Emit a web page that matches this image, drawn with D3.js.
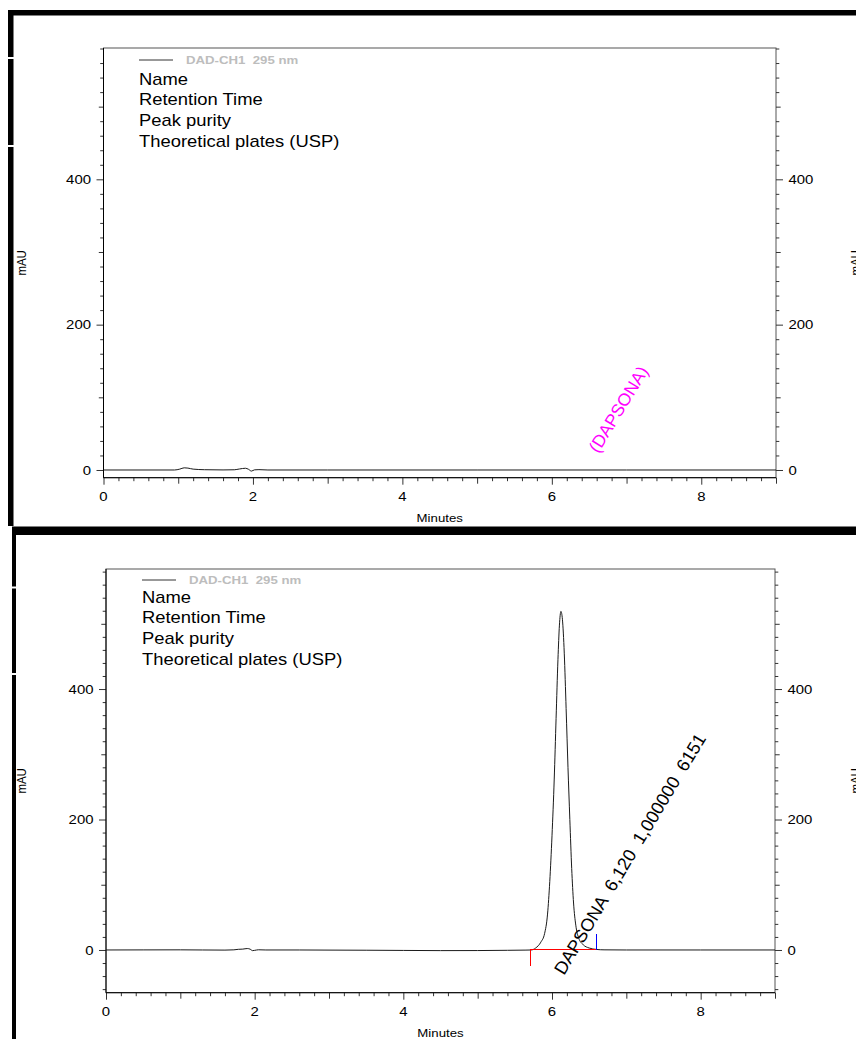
<!DOCTYPE html>
<html>
<head>
<meta charset="utf-8">
<script src="https://cdn.jsdelivr.net/npm/d3@7"></script>
<style>
  html, body { margin: 0; padding: 0; background: #fff; }
  svg { display: block; font-family: "Liberation Sans", Arial, Helvetica, sans-serif; }
</style>
</head>
<body>
<svg id="chart" width="856" height="1039"></svg>
<script>
// ---- data: chromatogram traces as [minutes, mAU] ----
const blankTrace = [
  [0, 0], [0.95, 0], [1.02, 1.2], [1.08, 3.0], [1.13, 2.6], [1.2, 1.2], [1.35, 0.4],
  [1.6, 0.1], [1.75, 0.3], [1.82, 1.4], [1.9, 2.4], [1.94, 1.0], [1.98, -1.5],
  [2.02, 0.2], [2.08, 0.5], [2.2, 0], [3, 0], [5, 0], [7, 0], [9, 0]
];
const sampleTrace = [
  [0, 0], [0.5, 0.1], [1.0, 0.2], [1.3, 0], [1.6, -0.2], [1.72, 0.2], [1.78, 1.0],
  [1.84, 1.3], [1.9, 2.2], [1.94, 1.2], [1.97, -1.0], [2.0, -0.6], [2.05, 0.3],
  [2.15, 0], [2.6, 0], [3.0, -0.2], [3.5, -0.4], [4.0, -0.7], [4.5, -1.0], [5.0, -0.9],
  [5.4, -0.5], [5.65, -0.2], [5.72, 0], [5.78, 3], [5.85, 12], [5.9, 25], [5.94, 55],
  [5.97, 105], [6.0, 175], [6.03, 262], [6.055, 355], [6.08, 445], [6.1, 498],
  [6.12, 519], [6.14, 507], [6.165, 455], [6.19, 370], [6.215, 280], [6.24, 200],
  [6.265, 125], [6.29, 72], [6.32, 38], [6.36, 18], [6.42, 8], [6.5, 3], [6.6, 0.8],
  [6.7, 0.2], [7, 0], [8, 0], [9, 0]
];

// ---- labels and axis values ----
const legendRows = ["Name", "Retention Time", "Peak purity", "Theoretical plates (USP)"];
const channelLabel = "DAD-CH1  295 nm";
const xTickLabels = [0, 2, 4, 6, 8];
const yTickLabels = [0, 200, 400];
const xLabel = "Minutes";
const yLabel = "mAU";

// ---- peak results ----
const peakName = "DAPSONA";
const peakRT = 6.120;
const peakPurity = "1,000000";
const peakPlates = 6151;
const peakStart = 5.70;
const peakEnd = 6.59;
const expectedName = "(DAPSONA)";
const expectedRT = 6.62;

const fmtRT = v => d3.format(".3f")(v).replace(".", ",");

const svg = d3.select("#chart");
const SX = 1.15; // horizontal glyph stretch of the printed report

function stretchedText(g, x, y, str, opt = {}) {
  return g.append("text")
    .attr("transform", `translate(${x},${y}) scale(${opt.sx || SX},1)`)
    .attr("text-anchor", opt.anchor || "start")
    .attr("dy", opt.dy || 0)
    .attr("font-size", opt.size || 13)
    .attr("font-weight", opt.weight || "normal")
    .attr("fill", opt.fill || "#000")
    .text(str);
}

// ---- report frame borders ----
const borders = svg.append("g").attr("fill", "#000");
borders.append("rect").attr("x", 8).attr("y", 10).attr("width", 848).attr("height", 5.5);
[[10, 57], [59, 145], [147, 526]].forEach(([a, b]) =>
  borders.append("rect").attr("x", 8).attr("y", a).attr("width", 5.5).attr("height", b - a));
borders.append("rect").attr("x", 12).attr("y", 526.5).attr("width", 844).attr("height", 8.5);
[[535, 586.5], [588.5, 673], [675, 1039]].forEach(([a, b]) =>
  borders.append("rect").attr("x", 12).attr("y", a).attr("width", 4).attr("height", b - a));

// ---- one chromatogram panel ----
function drawPanel(p) {
  const g = svg.append("g");
  const x = d3.scaleLinear().domain([0, 9]).range([p.left, p.right]);
  const y = d3.scaleLinear().domain(p.yDomain).range([p.bottom, p.top]);
  const id = "clip" + p.key;

  g.append("clipPath").attr("id", id).append("rect")
    .attr("x", p.left).attr("y", p.top).attr("width", p.right - p.left).attr("height", p.bottom - p.top);

  // frame
  g.append("rect").attr("x", p.left).attr("y", p.top)
    .attr("width", p.right - p.left).attr("height", p.bottom - p.top)
    .attr("fill", "none").attr("stroke", "#555").attr("stroke-width", 1);

  // y ticks: every 20, longer at 100s, labelled at 200s
  const yAll = d3.range(-100, 601, 20).filter(v => v >= p.yDomain[0] && v <= p.yDomain[1]);
  const yMajor = yAll.filter(v => v % 200 === 0);
  const yMid = yAll.filter(v => v % 100 === 0 && v % 200 !== 0);
  const yMinor = yAll.filter(v => v % 100 !== 0);
  const tickStyle = s => s.call(a => a.select(".domain").remove())
    .call(a => a.selectAll("line").attr("stroke", "#333"));
  [[yMajor, 7], [yMid, 4.7], [yMinor, 3.3]].forEach(([vals, len]) => {
    g.append("g").attr("transform", `translate(${p.left},0)`)
      .call(d3.axisLeft(y).tickValues(vals).tickSize(len).tickFormat("")).call(tickStyle);
    g.append("g").attr("transform", `translate(${p.right},0)`)
      .call(d3.axisRight(y).tickValues(vals).tickSize(len).tickFormat("")).call(tickStyle);
  });
  yTickLabels.forEach(v => {
    stretchedText(g, p.left - 12.5, y(v), v, { anchor: "end", dy: "0.36em", size: 13 });
    stretchedText(g, p.right + 12.5, y(v), v, { anchor: "start", dy: "0.36em", size: 13 });
  });

  // x ticks: every 0.2 min, longer on whole minutes, labelled every 2
  const xAll = d3.range(0, 46).map(i => i / 5);
  const xMajor = xAll.filter(v => Math.abs(v % 2) < 1e-9);
  const xMid = xAll.filter(v => Math.abs(v - Math.round(v)) < 1e-9 && Math.round(v) % 2 === 1);
  const xMinor = xAll.filter(v => Math.abs(v - Math.round(v)) > 1e-9);
  [[xMajor, 7], [xMid, 6], [xMinor, 3.5]].forEach(([vals, len]) => {
    g.append("g").attr("transform", `translate(0,${p.bottom})`)
      .call(d3.axisBottom(x).tickValues(vals).tickSize(len).tickFormat("")).call(tickStyle);
  });
  xTickLabels.forEach(v =>
    stretchedText(g, x(v), p.bottom + 19, v, { anchor: "middle", dy: "0.36em", size: 13 }));

  // axis lines
  g.append("line").attr("x1", p.left).attr("x2", p.left).attr("y1", p.top).attr("y2", p.bottom)
    .attr("stroke", "#000");
  g.append("line").attr("x1", p.left).attr("x2", p.right).attr("y1", p.bottom).attr("y2", p.bottom)
    .attr("stroke", "#000");

  // axis titles (the right-hand one runs off the page edge)
  stretchedText(g, (p.left + p.right) / 2, p.bottom + 40, xLabel, { anchor: "middle", dy: "0.36em", size: 11.5 });
  const mid = (p.top + p.bottom) / 2;
  [p.yTitleL, p.yTitleR].forEach(tx => {
    g.append("text")
      .attr("transform", `translate(${tx},${mid}) rotate(-90) scale(1,${SX})`)
      .attr("text-anchor", "middle").attr("font-size", 11.5).text(yLabel);
  });

  // trace
  const line = d3.line().x(d => x(d[0])).y(d => y(d[1])).curve(d3.curveMonotoneX);
  g.append("path").datum(p.trace).attr("clip-path", `url(#${id})`)
    .attr("fill", "none").attr("stroke", "#1a1a1a").attr("stroke-width", 1).attr("d", line);

  // legend
  const lx = p.left + p.legendDx, ly = p.top + p.legendDy;
  g.append("line").attr("x1", lx).attr("x2", lx + 34).attr("y1", ly).attr("y2", ly)
    .attr("stroke", "#333").attr("stroke-width", 1);
  stretchedText(g, lx + 47, ly, channelLabel, { dy: "0.36em", size: 11.5, weight: "bold", fill: "#bdbdbd" })
    .style("white-space", "pre");
  legendRows.forEach((r, i) =>
    stretchedText(g, lx, ly + p.rowDy + i * 20.7, r, { dy: "0.36em", size: 16 }));

  return { g, x, y };
}

// ---- blank injection ----
const panelA = drawPanel({
  key: "A", left: 103.5, right: 776, top: 48, bottom: 477.7, yDomain: [-10.6, 580.7],
  trace: blankTrace, legendDx: 35.5, legendDy: 12, rowDy: 19, yTitleL: 25.5, yTitleR: 860
});
panelA.g.append("text")
  .attr("transform", `translate(${panelA.x(expectedRT)},${panelA.y(0) - 16}) rotate(-58.5)`)
  .attr("font-size", 17.5).attr("fill", "#ff00ff").text(expectedName);

// ---- sample injection ----
const panelB = drawPanel({
  key: "B", left: 106, right: 775, top: 569, bottom: 992.7, yDomain: [-65.5, 584],
  trace: sampleTrace, legendDx: 36, legendDy: 11, rowDy: 17, yTitleL: 25.5, yTitleR: 860
});
// integration baseline and peak limits
const px = v => Math.round(panelB.x(v)) + 0.5;
const y0 = Math.round(panelB.y(0));
panelB.g.append("line").attr("x1", px(peakStart)).attr("x2", px(peakEnd))
  .attr("y1", y0 - 0.5).attr("y2", y0 - 0.5).attr("stroke", "#ff0000").attr("stroke-width", 1);
panelB.g.append("line").attr("x1", px(peakStart)).attr("x2", px(peakStart))
  .attr("y1", y0 - 1).attr("y2", y0 + 16).attr("stroke", "#ff0000").attr("stroke-width", 1);
panelB.g.append("line").attr("x1", px(peakEnd)).attr("x2", px(peakEnd))
  .attr("y1", y0).attr("y2", y0 - 16).attr("stroke", "#0000ff").attr("stroke-width", 1);
// peak annotation
panelB.g.append("text")
  .attr("transform", `translate(${panelB.x(peakRT) + 3},${panelB.y(0) + 26}) rotate(-59)`)
  .attr("font-size", 18).style("white-space", "pre")
  .text(`${peakName}  ${fmtRT(peakRT)}  ${peakPurity}  ${peakPlates}`);
</script>
</body>
</html>
